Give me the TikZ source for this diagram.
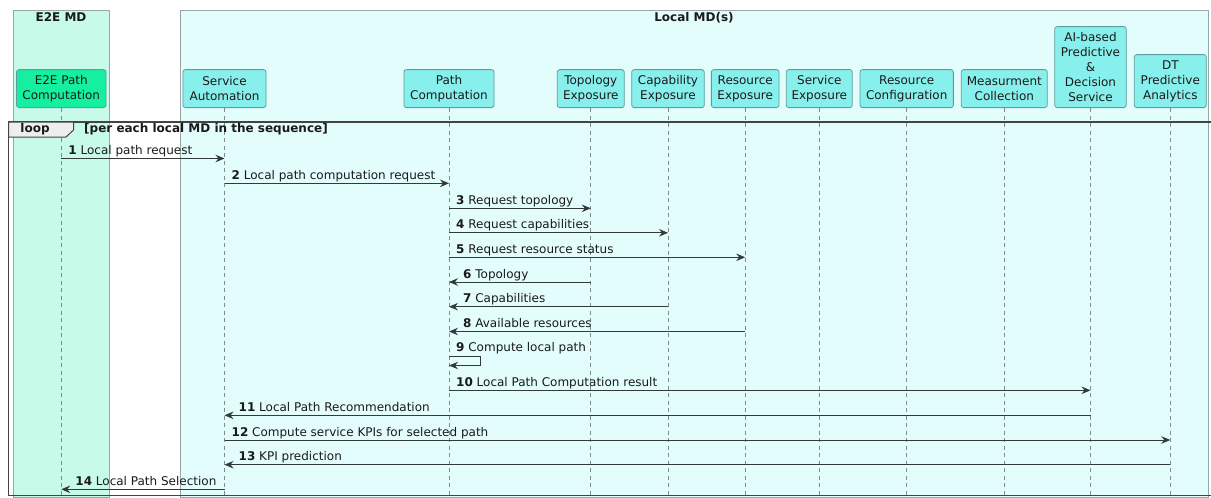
\documentclass[tikz,border=0pt]{standalone}
\usepackage{fontspec}
\setmainfont{DejaVu Sans}
\usetikzlibrary{arrows.meta}

\definecolor{e2eBg}{HTML}{C8FAEA}
\definecolor{localBg}{HTML}{E3FCFC}
\definecolor{e2eFill}{HTML}{14F0A0}
\definecolor{partFill}{HTML}{88F0EC}
\definecolor{partLine}{HTML}{5E9E9E}
\definecolor{grpLine}{HTML}{9AA6A6}
\definecolor{lifeC}{HTML}{7E8C8C}
\definecolor{lineC}{HTML}{333A3A}
\definecolor{frameC}{HTML}{444444}
\definecolor{tabFill}{HTML}{EEEEEE}
\definecolor{txtC}{HTML}{1A1A1A}

\tikzset{
  grp/.style={draw=grpLine, line width=0.8pt},
  gtitle/.style={font=\fontsize{12}{15}\selectfont\bfseries, text=txtC, inner sep=0pt},
  part/.style={draw=partLine, line width=0.8pt, fill=partFill, rounded corners=2.5pt,
    align=center, inner sep=0pt, text=txtC, anchor=south,
    font=\fontsize{12}{15}\selectfont},
  lifeline/.style={draw=lifeC, line width=0.7pt, dash pattern=on 4pt off 3.5pt},
  msg/.style={draw=lineC, line width=0.9pt, -{Stealth[length=9pt,width=7.5pt,inset=3pt]}},
  mlabel/.style={font=\fontsize{12}{15}\selectfont, text=txtC, inner sep=0pt},
  loopframe/.style={draw=frameC, line width=1.8pt},
  looptab/.style={draw=frameC, line width=1pt, fill=tabFill},
  looptxt/.style={font=\fontsize{12}{15}\selectfont\bfseries, text=txtC, inner sep=0pt},
}

% message towards a lifeline on the right: label starts near the sender
\newcommand{\msgright}[5]{%
  \coordinate (y#4) at (0,#3);
  \draw[msg] (#1 |- y#4) -- (#2 |- y#4);
  \node[mlabel, anchor=base west] (l#4) at ([xshift=7pt,yshift=4pt]#1 |- y#4) {\textbf{#4} #5};}
% message towards a lifeline on the left: label starts near the receiver
\newcommand{\msgleft}[5]{%
  \coordinate (y#4) at (0,#3);
  \draw[msg] (#1 |- y#4) -- (#2 |- y#4);
  \node[mlabel, anchor=base west] (l#4) at ([xshift=14pt,yshift=4pt]#2 |- y#4) {\textbf{#4} #5};}

\begin{document}
\begin{tikzpicture}[x=1pt, y=-1pt]
\useasboundingbox (0,0) rectangle (1211,498);
\fill[white] (0,0) rectangle (1211,498);

% domain groups
\draw[grp, fill=e2eBg] (13,10) rectangle (109,497.5);
\draw[grp, fill=localBg] (180,10) rectangle (1208,497.5);
\node[gtitle] (g1) at (61,17.5) {E2E MD};
\node[gtitle] (g2) at (694,17.5) {Local MD(s)};

% participants
\node[part, fill=e2eFill, minimum width=89.5pt, minimum height=38pt] (e2e) at (61.25,108) {E2E Path\\Computation};
\node[part, minimum width=83pt, minimum height=38pt] (sa) at (224.5,108) {Service\\Automation};
\node[part, minimum width=90pt, minimum height=38pt] (pc) at (449,108) {Path\\Computation};
\node[part, minimum width=67pt, minimum height=38pt] (te) at (590.8,108) {Topology\\Exposure};
\node[part, minimum width=72.6pt, minimum height=38pt] (ce) at (668,108) {Capability\\Exposure};
\node[part, minimum width=67.7pt, minimum height=38pt] (re) at (745.2,108) {Resource\\Exposure};
\node[part, minimum width=66pt, minimum height=38pt] (se) at (819.3,108) {Service\\Exposure};
\node[part, minimum width=93.3pt, minimum height=38pt] (rc) at (906.7,108) {Resource\\Configuration};
\node[part, minimum width=86pt, minimum height=38pt] (mc) at (1004.3,108) {Measurment\\Collection};
\node[part, minimum width=71.6pt, minimum height=81pt] (ai) at (1090.5,108) {AI-based\\Predictive\\\&\\Decision\\Service};
\node[part, minimum width=72pt, minimum height=53pt] (dt) at (1170.3,108) {DT\\Predictive\\Analytics};

% lifelines
\coordinate (bot) at (0,498);
\foreach \p in {e2e,sa,pc,te,ce,re,se,rc,mc,ai,dt}
  \draw[lifeline] (\p.south) -- (\p.south |- bot);

% loop fragment
\draw[loopframe] (8.5,122) rectangle (1216,495.5);
\draw[looptab] (8.5,122) -- (73.5,122) -- (73.5,130) -- (66,137) -- (8.5,137) -- cycle;
\node[looptxt] (lp) at (35,129.5) {loop};
\node[looptxt, anchor=west] (lc) at (84,129.5) {[per each local MD in the sequence]};

% messages
\msgright{e2e}{sa}{158.5}{1}{Local path request}
\msgright{sa}{pc}{183.3}{2}{Local path computation request}
\msgright{pc}{te}{208.3}{3}{Request topology}
\msgright{pc}{ce}{232.8}{4}{Request capabilities}
\msgright{pc}{re}{257.3}{5}{Request resource status}
\msgleft{te}{pc}{282}{6}{Topology}
\msgleft{ce}{pc}{306.7}{7}{Capabilities}
\msgleft{re}{pc}{331.5}{8}{Available resources}

% self message
\coordinate (y9a) at (0,356.5);
\coordinate (y9b) at (0,365.5);
\draw[msg] (pc |- y9a) -- ++(31,0) |- (pc |- y9b);
\node[mlabel, anchor=base west] (l9) at ([xshift=7pt,yshift=5.5pt]pc |- y9a) {\textbf{9} Compute local path};

\msgright{pc}{ai}{390.3}{10}{Local Path Computation result}
\msgleft{ai}{sa}{415.3}{11}{Local Path Recommendation}
\msgright{sa}{dt}{440}{12}{Compute service KPIs for selected path}
\msgleft{dt}{sa}{464.7}{13}{KPI prediction}
\msgleft{sa}{e2e}{489.3}{14}{Local Path Selection}
\end{tikzpicture}
\end{document}
